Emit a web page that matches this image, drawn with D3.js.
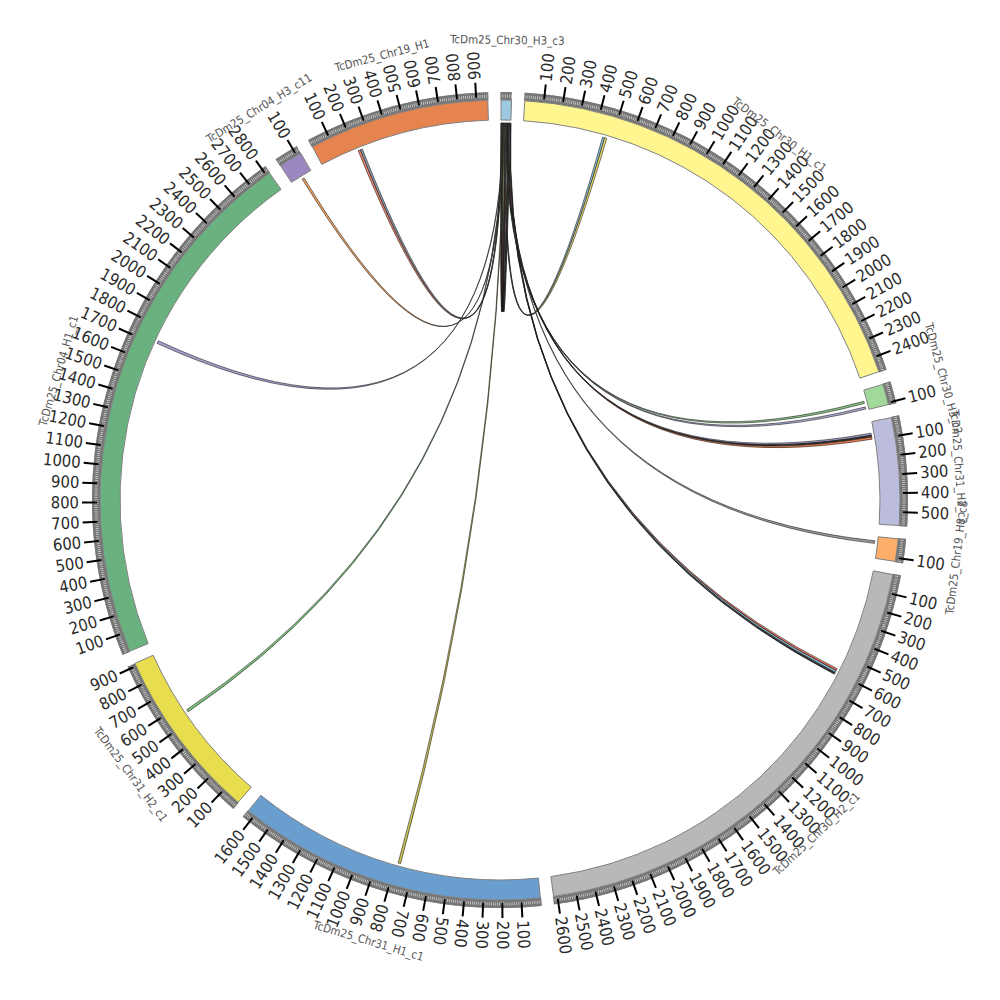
<!DOCTYPE html>
<html>
<head>
<meta charset="utf-8">
<script src="https://cdn.jsdelivr.net/npm/d3@7"></script>
<style>
  body { margin: 0; background: #fff; }
  svg { display: block; font-family: "DejaVu Sans Condensed", "DejaVu Sans", sans-serif; font-stretch: condensed; }
</style>
</head>
<body>
<div id="chart"></div>
<script>
// segments, clockwise from 12 o'clock
const segNames = [
    "TcDm25_Chr30_H3_c3", "TcDm25_Chr30_H1_c1", "TcDm25_Chr30_H3_c2",
    "TcDm25_Chr31_H2_c2", "TcDm25_Chr19_H8_c8", "TcDm25_Chr30_H2_c1",
    "TcDm25_Chr31_H1_c1", "TcDm25_Chr31_H2_c1", "TcDm25_Chr04_H1_c1",
    "TcDm25_Chr04_H3_c11", "TcDm25_Chr19_H1"
];
const segLengths = [55, 2480, 110, 570, 120, 2620, 1640, 915, 2820, 125, 960];
const segColors = [
    "#9ecae1", "#fff68f", "#a1d99b", "#bcbddc", "#fdae6b", "#b8b8b8",
    "#6a9ecf", "#e8dc4f", "#69b17f", "#9b88c1", "#e6844f"
];

// links: [from segment, start, end, to segment, start, end, colour]
const links = [
    ["TcDm25_Chr30_H3_c3", 1, 4, "TcDm25_Chr30_H3_c3", 30, 34, "#333333"],
    ["TcDm25_Chr30_H3_c3", 4, 8, "TcDm25_Chr30_H3_c3", 40, 44, "#6a51a3"],
    ["TcDm25_Chr30_H3_c3", 10, 14, "TcDm25_Chr30_H3_c3", 46, 50, "#222222"],
    ["TcDm25_Chr30_H3_c3", 20, 24, "TcDm25_Chr30_H3_c3", 52, 55, "#2e4a2e"],
    ["TcDm25_Chr30_H3_c3", 0, 2, "TcDm25_Chr30_H3_c3", 26, 29, "#e34a33"],
    ["TcDm25_Chr19_H1", 215, 228, "TcDm25_Chr30_H3_c3", 2, 5, "#f4876b"],
    ["TcDm25_Chr19_H1", 228, 240, "TcDm25_Chr30_H3_c3", 5, 8, "#8f9bb0"],
    ["TcDm25_Chr04_H3_c11", 60, 72, "TcDm25_Chr30_H3_c3", 8, 11, "#f3a35f"],
    ["TcDm25_Chr04_H1_c1", 1712, 1728, "TcDm25_Chr30_H3_c3", 11, 14, "#a3a0cf"],
    ["TcDm25_Chr31_H2_c1", 546, 560, "TcDm25_Chr30_H3_c3", 14, 17, "#7cc47c"],
    ["TcDm25_Chr31_H1_c1", 772, 786, "TcDm25_Chr30_H3_c3", 17, 20, "#cfc553"],
    ["TcDm25_Chr30_H1_c1", 448, 460, "TcDm25_Chr30_H3_c3", 22, 25, "#8ec0df"],
    ["TcDm25_Chr30_H1_c1", 460, 472, "TcDm25_Chr30_H3_c3", 25, 28, "#efe26a"],
    ["TcDm25_Chr30_H3_c2", 60, 72, "TcDm25_Chr30_H3_c3", 28, 31, "#8fcf8a"],
    ["TcDm25_Chr30_H3_c2", 92, 104, "TcDm25_Chr30_H3_c3", 31, 34, "#aeaed6"],
    ["TcDm25_Chr31_H2_c2", 62, 74, "TcDm25_Chr30_H3_c3", 34, 37, "#9e9ac8"],
    ["TcDm25_Chr31_H2_c2", 74, 84, "TcDm25_Chr30_H3_c3", 37, 40, "#333333"],
    ["TcDm25_Chr31_H2_c2", 84, 96, "TcDm25_Chr30_H3_c3", 40, 43, "#f08050"],
    ["TcDm25_Chr19_H8_c8", 24, 38, "TcDm25_Chr30_H3_c3", 43, 46, "#a0a0a0"],
    ["TcDm25_Chr30_H2_c1", 580, 592, "TcDm25_Chr30_H3_c3", 46, 49, "#e8705a"],
    ["TcDm25_Chr30_H2_c1", 592, 604, "TcDm25_Chr30_H3_c3", 49, 52, "#8ec4e0"],
    ["TcDm25_Chr30_H2_c1", 604, 614, "TcDm25_Chr30_H3_c3", 52, 55, "#333333"]
];

const majorStep = 100;
const minorStep = 10;

const width = 1000, height = 1000;
const rIn = 380, rOut = 400, rBand = 408, rLink = 377;
const rTick0 = 403, rTick1 = 418, rTickLabel = 421, rName = 460;
const gapDeg = 1.9, startDeg = 0.15;
// tick labels in this range are turned to stay readable
const flipFrom = 195, flipTo = 345;

const rad = d => d * Math.PI / 180;
const deg = r => r * 180 / Math.PI;
const isFlipped = a => a > flipFrom && a < flipTo;

function layoutSegments() {
    const degPerUnit = (360 - gapDeg * segNames.length) / d3.sum(segLengths);
    let a = startDeg;
    return segNames.map((name, i) => {
        const start = a, end = a + segLengths[i] * degPerUnit;
        a = end + gapDeg;
        return {
            name,
            length: segLengths[i],
            color: segColors[i],
            scale: d3.scaleLinear().domain([0, segLengths[i]]).range([rad(start), rad(end)])
        };
    });
}

function drawChart() {
    const segs = layoutSegments();
    const byName = new Map(segs.map(s => [s.name, s]));

    const svg = d3.select("#chart").append("svg")
        .attr("width", width)
        .attr("height", height);
    const g = svg.append("g").attr("transform", `translate(${width / 2},${height / 2})`);

    // links first so blocks sit on top
    const ribbon = d3.ribbon().radius(rLink);
    g.append("g").attr("class", "links")
        .selectAll("path")
        .data(links)
        .join("path")
        .attr("d", l => {
            const s = byName.get(l[0]), t = byName.get(l[3]);
            return ribbon({
                source: { startAngle: s.scale(l[1]), endAngle: s.scale(l[2]) },
                target: { startAngle: t.scale(l[4]), endAngle: t.scale(l[5]) }
            });
        })
        .attr("fill", l => l[6])
        .attr("stroke", "#1a1a1a")
        .attr("stroke-width", 0.6);

    // grey band made of minor ticks
    const band = d3.arc();
    const bandG = g.append("g").attr("class", "band");
    segs.forEach(s => {
        const [a0, a1] = s.scale.range();
        bandG.append("path")
            .attr("d", band({ innerRadius: rOut, outerRadius: rOut + 2.5, startAngle: a0, endAngle: a1 }))
            .attr("fill", "#777");
        bandG.append("path")
            .attr("d", band({ innerRadius: rBand - 2.5, outerRadius: rBand, startAngle: a0, endAngle: a1 }))
            .attr("fill", "#777");
        bandG.selectAll(null)
            .data(d3.range(0, s.length + 1, minorStep))
            .join("line")
            .attr("transform", v => `rotate(${deg(s.scale(v)) - 90})`)
            .attr("x1", rOut).attr("x2", rBand)
            .attr("stroke", "#777")
            .attr("stroke-width", 1.5);
    });

    // segment blocks
    const arc = d3.arc().innerRadius(rIn).outerRadius(rOut);
    g.append("g").attr("class", "segments")
        .selectAll("path")
        .data(segs)
        .join("path")
        .attr("d", s => arc({ startAngle: s.scale.range()[0], endAngle: s.scale.range()[1] }))
        .attr("fill", s => s.color)
        .attr("stroke", "#808080")
        .attr("stroke-width", 1);

    // major ticks and labels
    const tickG = g.append("g").attr("class", "ticks");
    segs.forEach(s => {
        const ticks = d3.range(majorStep, s.length + 1, majorStep);
        const tg = tickG.selectAll(null)
            .data(ticks)
            .join("g")
            .attr("transform", v => `rotate(${deg(s.scale(v)) - 90})`);
        tg.append("line")
            .attr("x1", rTick0).attr("x2", rTick1)
            .attr("stroke", "#000")
            .attr("stroke-width", 2);
        tg.append("text")
            .attr("transform", v => `translate(${rTickLabel},0)` + (isFlipped(deg(s.scale(v))) ? " rotate(180)" : ""))
            .attr("text-anchor", v => isFlipped(deg(s.scale(v))) ? "end" : "start")
            .attr("dominant-baseline", "central")
            .attr("font-size", 16.5)
            .attr("fill", "#2a2a2a")
            .text(v => v);
    });

    // segment names
    g.append("g").attr("class", "names")
        .selectAll("text")
        .data(segs)
        .join("text")
        .attr("transform", s => {
            const mid = deg((s.scale.range()[0] + s.scale.range()[1]) / 2);
            const bottom = mid > 90 && mid < 270;
            return `rotate(${mid}) translate(0,${-rName})` + (bottom ? " rotate(180)" : "");
        })
        .attr("text-anchor", "middle")
        .attr("dominant-baseline", "central")
        .attr("font-size", 11.5)
        .attr("fill", "#555")
        .text(s => s.name);
}

drawChart();
</script>
</body>
</html>
